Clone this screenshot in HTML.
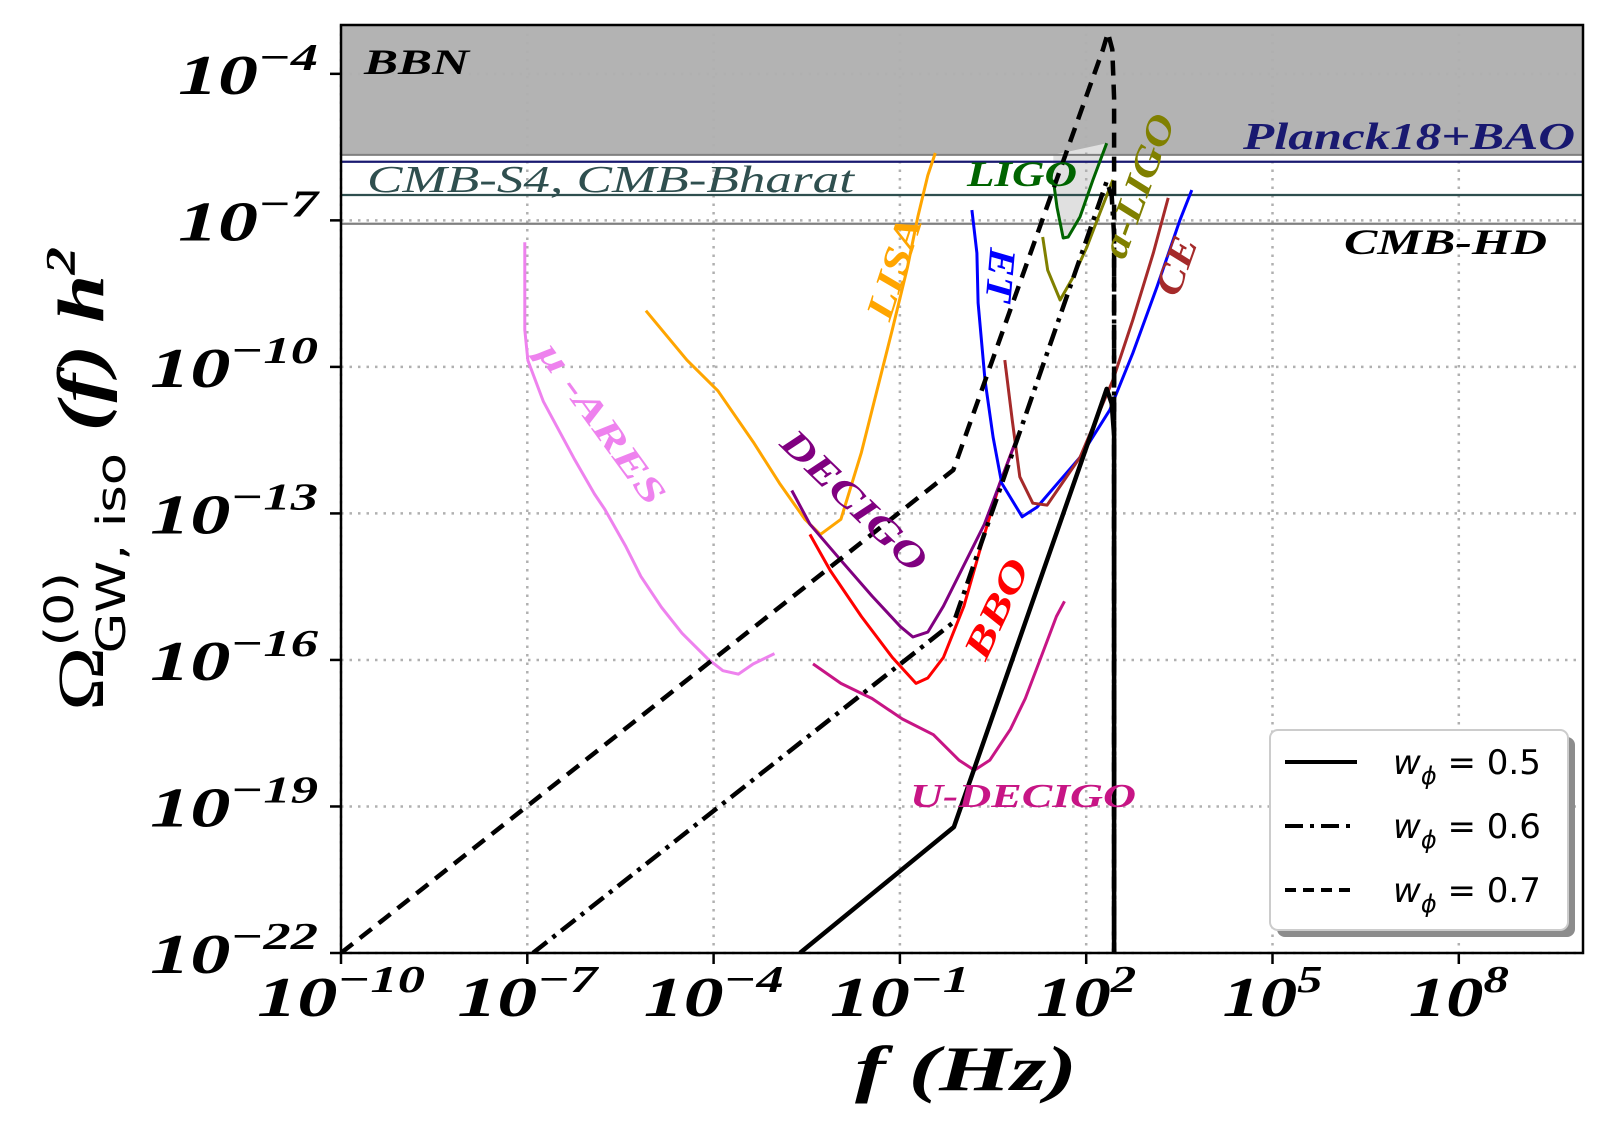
<!DOCTYPE html>
<html><head><meta charset="utf-8">
<style>
html,body{margin:0;padding:0;background:#fff;}
svg{display:block;}
.tk{font-family:"Liberation Serif",serif;font-weight:bold;font-style:italic;font-size:56px;fill:#000;}
.lab{font-family:"Liberation Serif",serif;font-weight:bold;font-style:italic;}
</style></head>
<body>
<svg id="chart" width="1608" height="1143" viewBox="0 0 1608 1143" xmlns="http://www.w3.org/2000/svg">
<defs><clipPath id="pc"><rect x="341" y="25" width="1242" height="928"/></clipPath></defs>
<g id="bg" clip-path="url(#pc)"></g>
<g id="grid"></g>
<g id="curves" clip-path="url(#pc)"></g>
<g id="labels"></g>
<g id="axes"></g>
<g id="legend"></g>
</svg>
<script>
// ---- data (log10 values) ----
const xTicks = [-10, -7, -4, -1, 2, 5, 8];
const yTicks = [-4, -7, -10, -13, -16, -19, -22];
const bbnLevel = -5.66;
const plancLevel = -5.8;
const cmbS4Level = -6.48;
const cmbHDLevel = -7.07;

const w05x = [-2.61, -0.13, 2.25, 2.33, 2.41, 2.45, 2.45];
const w05y = [-22, -19.42, -10.75, -10.45, -10.75, -11.4, -22];
const w06x = [-6.91, -0.13, 2.25, 2.33, 2.41, 2.45, 2.45];
const w06y = [-22, -15.22, -6.5, -6.2, -6.5, -7.3, -22];
const w07x = [-10, -0.14, 2.27, 2.35, 2.42, 2.45, 2.45];
const w07y = [-22, -12.11, -3.5, -3.16, -3.5, -4.5, -22];

const aresX = [-7.04,-7.04,-6.99,-6.74,-6.25,-5.92,-5.75,-5.42,-5.17,-4.84,-4.51,-4.1,-3.85,-3.6,-3.36,-3.02];
const aresY = [-7.45,-9.24,-9.87,-10.71,-11.87,-12.6,-12.92,-13.66,-14.29,-14.92,-15.45,-15.97,-16.22,-16.29,-16.08,-15.87];
const lisaX = [-5.09,-4.43,-3.93,-3.36,-2.94,-2.53,-2.28,-1.95,-1.62,-1.37,-1.12,-0.88,-0.71,-0.55,-0.43];
const lisaY = [-8.85,-9.86,-10.49,-11.54,-12.38,-13.12,-13.43,-13.12,-11.75,-10.49,-9.23,-7.97,-6.92,-6.08,-5.62];
const decigoX = [-2.74,-2.45,-1.95,-1.45,-0.99,-0.79,-0.55,-0.3,0.03,0.36,0.86];
const decigoY = [-12.53,-13.22,-13.96,-14.69,-15.32,-15.53,-15.43,-14.9,-14.06,-13.22,-11.54];
const bboX = [-2.45,-2.12,-1.62,-1.12,-0.74,-0.55,-0.3,0.03,0.36,0.61,0.86];
const bboY = [-13.43,-14.17,-15.11,-15.95,-16.48,-16.37,-15.95,-14.9,-13.43,-12.38,-11.54];
const udecX = [-2.4,-1.95,-1.45,-0.96,-0.46,-0.05,0.2,0.45,0.78,1.02,1.27,1.52,1.65];
const udecY = [-16.08,-16.48,-16.79,-17.21,-17.53,-18.05,-18.26,-18.05,-17.42,-16.79,-15.95,-15.11,-14.8];
const etX = [0.16,0.24,0.26,0.37,0.5,0.64,0.97,1.21,1.9,2.38,2.75,3.14,3.51,3.7];
const etY = [-6.79,-7.67,-8.69,-10.27,-11.44,-12.38,-13.07,-12.87,-11.85,-10.88,-9.72,-8.36,-6.99,-6.38];
const ceX = [0.69,0.81,0.93,1.14,1.37,1.9,2.43,2.75,3.08,3.32];
const ceY = [-9.86,-11.1,-12.25,-12.79,-12.83,-11.85,-10.27,-9.04,-7.67,-6.54];
const ligoX = [1.47,1.53,1.63,1.71,1.9,2.11,2.33];
const ligoY = [-6.17,-6.73,-7.36,-7.34,-6.93,-6.17,-5.42];
const aligoX = [1.3,1.38,1.58,1.79,2.01,2.22,2.43];
const aligoY = [-7.34,-8.02,-8.63,-8.16,-7.55,-6.85,-6.17];
const legendLabels = ["0.5","0.6","0.7"];

// ---- axes ----
const X0=341,X1=1583,Y0=25,Y1=953,XMIN=-10,XMAX=10,YMIN=-22,YMAX=-3;
function sx(v){return X0+(v-XMIN)/(XMAX-XMIN)*(X1-X0);}
function sy(v){return Y1-(v-YMIN)/(YMAX-YMIN)*(Y1-Y0);}
const NS="http://www.w3.org/2000/svg";
function mk(tag,attrs,parent){const e=document.createElementNS(NS,tag);for(const k in attrs)e.setAttribute(k,attrs[k]);parent.appendChild(e);return e;}
function pts(xs,ys){return xs.map((x,i)=>sx(x).toFixed(1)+","+sy(ys[i]).toFixed(1)).join(" ");}
function expLen(t){const s=String(Math.abs(t));return 72+(t<0?40:0)+28*s.length;}

const bg=document.getElementById('bg');
let r=mk('rect',{x:X0,y:Y0,width:X1-X0,height:sy(bbnLevel)-Y0,fill:'#b3b3b3'},bg);


let lf=mk('polygon',{points:pts(ligoX.concat([1.47]),ligoY.concat([bbnLevel])),fill:'#e0e0e0'},bg);



const grid=document.getElementById('grid');
xTicks.forEach(t=>{const l=mk('line',{x1:sx(t),x2:sx(t),y1:Y0,y2:Y1,stroke:'#b0b0b0','stroke-width':2.5,'stroke-dasharray':'2.5,6'},grid);

});
yTicks.forEach(t=>{const l=mk('line',{x1:X0,x2:X1,y1:sy(t),y2:sy(t),stroke:'#b0b0b0','stroke-width':2.5,'stroke-dasharray':'2.5,6'},grid);

});

function hline(v,col,w,name){const l=mk('line',{x1:X0,x2:X1,y1:sy(v),y2:sy(v),stroke:col,'stroke-width':w},grid);

}
hline(bbnLevel,'#808080',2,'bbn-bound-line');
hline(plancLevel,'#191970',2.2,'planck-bao-line');
hline(cmbS4Level,'#2f4f4f',2.2,'cmb-s4-line');
hline(cmbHDLevel,'#808080',2.2,'cmb-hd-line');

const cv=document.getElementById('curves');
function curve(xs,ys,col,w,name,dash){const a={points:pts(xs,ys),fill:'none',stroke:col,'stroke-width':w,'stroke-linejoin':'round'};if(dash)a['stroke-dasharray']=dash;const p=mk('polyline',a,cv);

}
curve(aresX,aresY,'#ee82ee',3,'mu-ares-curve');
curve(lisaX,lisaY,'#ffa500',3,'lisa-curve');
curve(udecX,udecY,'#c71585',3,'u-decigo-curve');
curve(bboX,bboY,'#ff0000',3,'bbo-curve');
curve(decigoX,decigoY,'#800080',3,'decigo-curve');
curve(etX,etY,'#0000ff',3,'et-curve');
curve(ceX,ceY,'#a52a2a',3,'ce-curve');
curve(ligoX,ligoY,'#006400',3,'ligo-curve');
curve(aligoX,aligoY,'#808000',3,'a-ligo-curve');
curve(w05x,w05y,'#000',4.5,'w-0.5-curve');
curve(w06x,w06y,'#000',4.5,'w-0.6-curve','18,7,4,7');
curve(w07x,w07y,'#000',4.5,'w-0.7-curve','15,9');

const ax=document.getElementById('axes');
let fr=mk('rect',{x:X0,y:Y0,width:X1-X0,height:Y1-Y0,fill:'none',stroke:'#000','stroke-width':2.5},ax);


xTicks.forEach(t=>{
 const l=mk('line',{x1:sx(t),x2:sx(t),y1:Y1,y2:Y1+11,stroke:'#000','stroke-width':2.5},ax);
 
 
 const L=expLen(t);
 const tx=mk('text',{x:sx(t)-L/2,y:1016,class:'tk',textLength:L,lengthAdjust:'spacingAndGlyphs'},ax);
 
 
 const a=mk('tspan',{},tx);a.textContent='10';
 const b=mk('tspan',{dy:-24,'font-size':38},tx);b.textContent=(t<0?'\u2212':'')+Math.abs(t);
});
yTicks.forEach(t=>{
 const l=mk('line',{x1:X0-11,x2:X0,y1:sy(t),y2:sy(t),stroke:'#000','stroke-width':2.5},ax);
 
 
 const L=expLen(t);
 const tx=mk('text',{x:318-L,y:sy(t)+20,class:'tk',textLength:L,lengthAdjust:'spacingAndGlyphs'},ax);
 
 
 const a=mk('tspan',{},tx);a.textContent='10';
 const b=mk('tspan',{dy:-24,'font-size':38},tx);b.textContent='\u2212'+Math.abs(t);
});

const lg=document.getElementById('legend');
let sh=mk('rect',{x:1277,y:737,width:298,height:200,rx:8,fill:'#8c8c8c'},lg);


let bx=mk('rect',{x:1270,y:730,width:298,height:200,rx:8,fill:'#fff',stroke:'#cccccc','stroke-width':2},lg);


const dashes=[null,'18,7,4,7','11,7'];
legendLabels.forEach((lab,i)=>{
 const y=762+i*64;
 const a={x1:1285,x2:1357,y1:y,y2:y,stroke:'#000','stroke-width':4};
 if(dashes[i])a['stroke-dasharray']=dashes[i];
 const l=mk('line',a,lg);
 
 
 const t=mk('text',{x:1393,y:y+12,'font-family':'"DejaVu Sans",sans-serif','font-size':34,fill:'#000'},lg);
 
 
 const w=mk('tspan',{'font-style':'italic'},t);w.textContent='w';
 const s=mk('tspan',{dy:10,'font-size':24,'font-style':'italic'},t);s.textContent='\u03d5';
 const e=mk('tspan',{dy:-10},t);e.textContent=' = '+lab;
});
</script>
<svg style="position:absolute;left:0;top:0" width="1608" height="1143">
<text x="364" y="74" font-size="36" fill="#000" class="lab" textLength="105" lengthAdjust="spacingAndGlyphs">BBN</text>
<text x="1243" y="149" font-size="38" fill="#191970" class="lab" textLength="332" lengthAdjust="spacingAndGlyphs">Planck18+BAO</text>
<text x="367" y="192" font-size="38" fill="#2f4f4f" font-family="Liberation Serif" font-style="italic" textLength="487" lengthAdjust="spacingAndGlyphs">CMB-S4,  CMB-Bharat</text>
<text x="1344" y="254" font-size="36" fill="#000" class="lab" textLength="203" lengthAdjust="spacingAndGlyphs">CMB-HD</text>
<text x="967" y="186" font-size="36" fill="#006400" class="lab" textLength="110" lengthAdjust="spacingAndGlyphs">LIGO</text>
<text x="-75" y="0" font-size="38" fill="#808000" class="lab" textLength="150" lengthAdjust="spacingAndGlyphs" transform="translate(1150,190) rotate(-70)">a-LIGO</text>
<text x="-27" y="0" font-size="38" fill="#0000ff" class="lab" textLength="54" lengthAdjust="spacingAndGlyphs" transform="translate(988,274) rotate(95)">ET</text>
<text x="-30" y="0" font-size="38" fill="#a52a2a" class="lab" textLength="60" lengthAdjust="spacingAndGlyphs" transform="translate(1188,270) rotate(-70)">CE</text>
<text x="-53" y="0" font-size="38" fill="#ffa500" class="lab" textLength="106" lengthAdjust="spacingAndGlyphs" transform="translate(906,272) rotate(-72)">LISA</text>
<text x="-95" y="0" font-size="36" fill="#ee82ee" class="lab" textLength="191" lengthAdjust="spacingAndGlyphs" transform="translate(592,430) rotate(54)">μ -ARES</text>
<text x="-94" y="0" font-size="38" fill="#800080" class="lab" textLength="187" lengthAdjust="spacingAndGlyphs" transform="translate(846,510) rotate(44)">DECIGO</text>
<text x="-53" y="0" font-size="38" fill="#ff0000" class="lab" textLength="106" lengthAdjust="spacingAndGlyphs" transform="translate(1008,614) rotate(-65)">BBO</text>
<text x="910" y="807" font-size="34" fill="#c71585" class="lab" textLength="226" lengthAdjust="spacingAndGlyphs">U-DECIGO</text>
<text x="855" y="1090" font-size="64" fill="#000" class="lab" textLength="222" lengthAdjust="spacingAndGlyphs">f  (Hz)</text>
<text x="-232" y="0" fill="#000" transform="translate(103,479) rotate(-90)" textLength="464" lengthAdjust="spacingAndGlyphs"><tspan font-family="Liberation Serif" font-size="66">Ω</tspan><tspan font-family="DejaVu Sans" font-size="40" dy="-30">(0)</tspan><tspan font-family="DejaVu Sans" font-size="40" dx="-62" dy="52">GW, iso</tspan><tspan font-family="Liberation Serif" font-weight="bold" font-style="italic" font-size="66" dy="-22"> (f) h</tspan><tspan font-family="Liberation Serif" font-weight="bold" font-style="italic" font-size="42" dy="-28">2</tspan></text>
</svg>
</body></html>
